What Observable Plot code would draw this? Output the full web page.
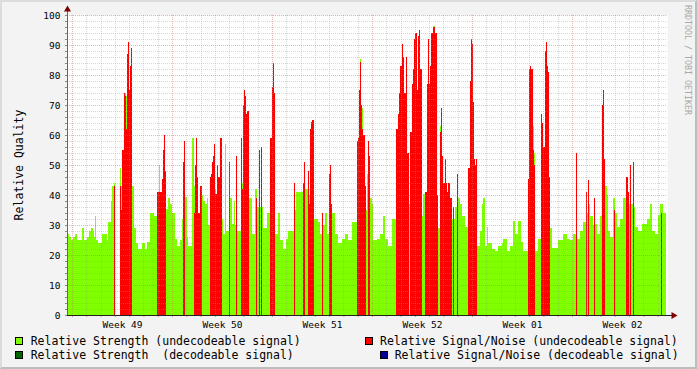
<!DOCTYPE html>
<html><head><meta charset="utf-8">
<script src="https://cdn.jsdelivr.net/npm/d3@7"></script>
<script src="https://cdn.jsdelivr.net/npm/@observablehq/plot@0.6"></script>
<style>
html,body{margin:0;padding:0;background:#fff;}
#wrap{position:relative;width:697px;height:369px;background:#f3f3f3;overflow:hidden;font-family:"DejaVu Sans Mono",monospace;}
#wrap svg{display:block;}
#border{position:absolute;left:0;top:0;width:697px;height:369px;box-sizing:border-box;border-style:solid;border-width:2px;border-color:#dcdcdc #bdbdbd #bdbdbd #dcdcdc;pointer-events:none;}
</style></head><body>
<div id="wrap"><div id="chart"></div><div id="legend"></div><div id="border"></div></div>
<script>
// Time axis in "slots": 1 slot = 1/100 week (~1.68 h). Slot 5 = Monday 00:00 of week 49.
const weekLabels = ["Week 49","Week 50","Week 51","Week 52","Week 01","Week 02"];
const weekStartSlots = [5,105,205,305,405,505];
const yTicks = [0,10,20,30,40,50,60,70,80,90,100];
const yTitle = "Relative Quality";
const watermark = "RRDTOOL / TOBI OETIKER";
const legendLabels = [
  "Relative Strength (undecodeable signal)",
  "Relative Signal/Noise (undecodeable signal)",
  "Relative Strength  (decodeable signal)",
  "Relative Signal/Noise (decodeable signal)"
];
// Relative Strength (undecodeable): [start slot, value], each run lasts until the next start; null = no data
const strengthRuns = [
[0,27],[2,26],[4,25],[6,26],[8,27],[10,25],[15,29],[17,25],[20,26],[22,28],[24,29],[26,28],[27,26],[28,33],[29,25],[31,24],[35,27],[40,25],[41,31],[44,38],[45,43],[47,44],[48,null],
[53,49],[54,43],[55,30],[58,74],[59,73],[60,30],[65,43],[67,29],[69,24],[71,22],[75,24],[78,22],[80,24.5],[83,34],[87,33],[90,30],[92,50],[93,30],[99,35.5],[101,39],[103,37],[105,34],[108,25.5],[110,23],[113,25],[115,32],[116,30],[118,39.5],[120,26],[121,23],[125,59],[127,43],[128,30],[135,40],[136,38],[138,37],[140,39],[141,30],[148,42],[149,30],[155,32],[156,27],[158,57],[159,28],[163,39],[165,30.5],[167,38],[168,30],[170,28],[175,44],[176,30],[182,39],[185,27],[188,42],[190,36],[196,29],[200,34],[203,30],[208,27],[211,34],[213,25],[216,22],[219,25.5],[221,28],[228,35],[229,41],[236,40],[238,42],[241,40],[247,32],[251,31],[253,27],[256,30],[258,34],[260,27],[262,30],[265,34],[268,27],[271,24],[275,25.5],[278,27],[281,25],[285,31],[290,30],[293,85.5],[294,30],[295,69],[296,35],[300,47],[301,35],[303,39],[305,37],[306,25],[310,25.5],[313,27],[316,33],[318,25.5],[321,23],[325,32],[329,30],[342,37],[343,30],[355,33],[356,40.5],[358,30],[366,96.5],[368,30],[371,29],[373,63],[375,30],[385,32],[388,36],[391,39],[393,37],[395,33],[398,29.5],[401,30],[410,23],[413,28],[415,37],[416,39],[418,23],[420,29.5],[421,24],[425,22],[428,21.5],[431,23],[435,24],[436,25.5],[440,21.5],[443,23],[446,31.5],[448,27],[451,31.5],[454,24.5],[456,21.5],[461,30],[466,63],[467,54],[468,21.5],[471,25.5],[474,30],[483,29],[485,22.5],[491,25],[496,27],[500,25.5],[503,25],[506,27],[510,25.5],[513,28],[516,31],[519,34],[522,37],[523,33],[526,30],[528,30.5],[530,27],[533,33],[535,30],[538,43],[540,40],[541,28],[543,26],[546,39],[548,34],[550,29.5],[553,32],[556,39],[559,30],[562,37],[567,36],[568,29.5],[571,28],[575,30.5],[580,32],[583,37],[585,28],[588,27],[591,33.5],[593,37],[596,34],[599,null]
];
// Relative Signal/Noise (undecodeable)
const snrRuns = [
[47,43],[48,null],
[53,43],[54,35],[55,55],[57,74],[58,73],[59,62],[60,87],[61,91],[62,75],[63,83],[64,89],[65,null],
[90,41],[95,45.5],[96,55],[97,60],[98,48],[99,null],
[116,51],[117,58],[118,null],
[127,34],[128,50],[129,59],[130,46],[131,34],[133,43],[135,null],
[143,46],[144,47],[145,51],[146,53],[147,57],[148,40.5],[150,50],[151,46],[153,59],[155,null],
[162,51],[163,null],[169,53],[170,null],
[174,59],[175,42],[176,70],[177,75],[178,73],[179,67],[180,68],[182,null],
[189,39],[190,null],[192,55],[193,null],[194,56],[195,null],
[203,59],[205,76],[206,84],[207,74],[208,null],
[227,44],[228,null],
[236,44],[237,51],[238,null],
[241,48],[242,37],[243,62],[244,64.5],[245,65],[247,null],
[255,34],[256,null],
[262,47],[263,50],[264,37],[265,null],
[290,58],[291,59],[292,75],[293,84.5],[294,70],[295,62],[296,60],[298,43],[299,null],
[301,58],[302,53],[303,null],
[329,62],[331,67],[332,74],[333,83],[335,90.5],[336,86],[337,74],[339,86],[340,54],[342,null],
[343,61],[345,77],[346,82],[347,92],[348,94],[350,75],[351,93],[352,95],[353,82],[355,null],
[358,41],[360,77],[361,92],[362,77],[363,83],[364,94],[366,96],[368,94],[370,40],[371,null],
[373,61],[374,69],[375,53],[376,44],[378,52],[379,44],[380,41],[381,44],[383,39],[385,null],
[386,36],[387,null],[390,47],[391,null],
[401,49],[403,78],[404,92],[405,90.5],[406,71],[407,52],[408,50],[409,52],[410,null],
[461,45.5],[462,82],[463,83],[464,82],[466,55],[467,50],[468,null],
[474,67],[475,64],[476,56],[478,88],[479,91],[480,83],[481,81],[482,46],[483,null],
[509,54],[510,null],
[519,41],[520,null],[521,45],[522,null],[527,39],[528,null],
[535,70],[536,75],[537,52],[538,null],
[547,35],[548,null],
[559,46],[561,41],[562,null],[563,50],[564,null],[566,51],[567,null],
[594,34],[595,null]
];
const totalSlots = 600;

const colors = {strength:"#7fff00", snr:"#ff0000", strengthDec:"#006400", snrDec:"#000099"};

function toRects(runs){
  const out = [];
  for (let i = 0; i < runs.length - 1; i++) {
    const [s, v] = runs[i];
    if (v != null) out.push({x1: s, x2: runs[i+1][0], v});
  }
  return out;
}
const strengthRects = toRects(strengthRuns);
const snrRects = toRects(snrRuns);

const slotsPerDay = 100/7;
const dayLines = d3.range(0, 42).map(k => weekStartSlots[0] + k*slotsPerDay).filter(s => s <= totalSlots);
const minorDays = dayLines.filter((d,i) => i % 7 !== 0);
const minorY = d3.range(2, 100, 2).filter(v => v % 10 !== 0);
const majorY = yTicks.slice(1);
const weekMid = weekStartSlots.map(s => s + 50);

const gridMinor = {stroke:"#999", strokeOpacity:0.4, strokeDasharray:"1,1", shapeRendering:"crispEdges"};
const gridMajor = {stroke:"#d46a6a", strokeOpacity:0.5, strokeDasharray:"1,1", shapeRendering:"crispEdges"};
const rectOpts = {x1: "x1", x2: "x2", y: "v", inset: 0, shapeRendering: "crispEdges"};

const chart = Plot.plot({
  width: 697, height: 330,
  marginLeft: 67, marginRight: 30, marginTop: 15, marginBottom: 15,
  x: {domain: [0, totalSlots], axis: null, label: null},
  y: {domain: [0, 100], axis: null, label: null},
  style: {background: "transparent", fontFamily: "DejaVu Sans Mono, monospace", fontSize: "9.5px", color: "#000"},
  marks: [
    Plot.frame({fill: "white", stroke: "none"}),
    Plot.rectY(strengthRects, {...rectOpts, fill: colors.strength}),
    Plot.rectY(snrRects, {...rectOpts, fill: colors.snr}),
    Plot.ruleY(minorY, gridMinor),
    Plot.ruleX(minorDays, gridMinor),
    Plot.ruleY(majorY, gridMajor),
    Plot.ruleX(weekStartSlots, gridMajor),
    Plot.axisY(d3.range(0, 101, 2), {tickSize: 2, tickFormat: () => "", stroke: "#888", label: null}),
    Plot.axisY(yTicks, {tickSize: 0, tickPadding: 7, fontSize: 9.5, fill: "#000", label: null}),
    Plot.axisX(dayLines, {tickSize: 2, tickFormat: () => "", stroke: "#d09090", label: null}),
    Plot.axisX(weekMid, {tickSize: 0, tickPadding: 6, fontSize: 9.5, fill: "#000", label: null,
      tickFormat: d => weekLabels[weekMid.indexOf(d)]}),
    Plot.ruleX([0], {stroke: "#666", insetTop: -6, shapeRendering: "crispEdges"}),
    Plot.ruleY([0], {stroke: "#222", insetRight: -6, shapeRendering: "crispEdges"}),
    Plot.dot([[0, 100]], {x: d => d[0], y: d => d[1], symbol: "triangle", r: 2.6, fill: "#7f0000", dy: -6}),
    Plot.dot([[totalSlots, 0]], {x: d => d[0], y: d => d[1], symbol: "triangle", r: 2.6, fill: "#7f0000", dx: 6, rotate: 90})
  ]
});

const svg = d3.select(chart);
svg.append("text").attr("transform", "translate(22.5,165) rotate(-90)")
  .attr("text-anchor", "middle").attr("font-size", 11.5).attr("fill", "#000")
  .attr("font-family", "DejaVu Sans Mono, monospace").text(yTitle);
svg.append("text").attr("transform", "translate(685,5) rotate(90)")
  .attr("text-anchor", "start").attr("font-size", 8.3).attr("fill", "#a8a8a8")
  .attr("font-family", "DejaVu Sans Mono, monospace").text(watermark);
document.getElementById("chart").appendChild(chart);

// legend below the chart
const leg = d3.select("#legend").append("svg").attr("width", 697).attr("height", 39)
  .attr("font-family", "DejaVu Sans Mono, monospace").attr("font-size", 11.5);
const items = [
  {box: 15, text: 30.7, base: 15, color: colors.strength, label: legendLabels[0]},
  {box: 365, text: 380, base: 15, color: colors.snr, label: legendLabels[1]},
  {box: 15, text: 30.7, base: 29, color: colors.strengthDec, label: legendLabels[2]},
  {box: 380, text: 394.7, base: 29, color: colors.snrDec, label: legendLabels[3]}
];
for (const it of items) {
  leg.append("rect").attr("x", it.box + 0.5).attr("y", it.base - 7.5).attr("width", 7).attr("height", 7)
    .attr("fill", it.color).attr("stroke", "#000").attr("stroke-width", 1);
  leg.append("text").attr("x", it.text).attr("y", it.base).attr("fill", "#000")
    .attr("xml:space", "preserve").style("white-space", "pre").text(it.label);
}
</script>
</body></html>
